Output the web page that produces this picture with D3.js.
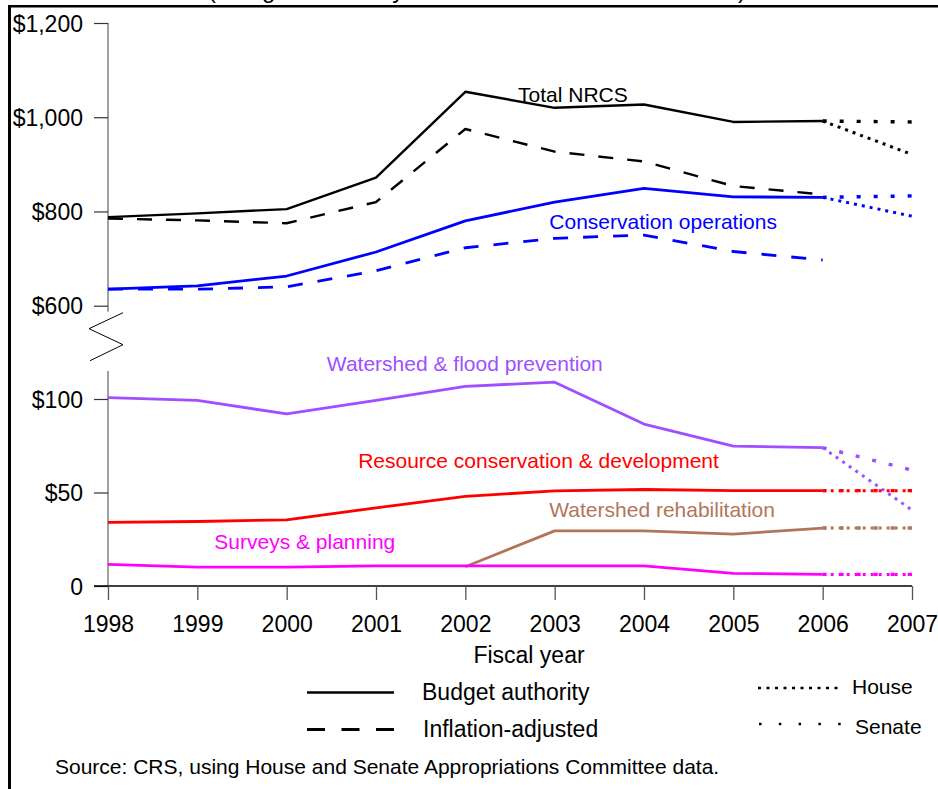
<!DOCTYPE html>
<html>
<head>
<meta charset="utf-8">
<script src="https://cdn.jsdelivr.net/npm/d3@7"></script>
<style>
  body { margin: 0; background: #fff; }
  svg { font-family: "Liberation Sans", Arial, sans-serif; }
</style>
</head>
<body>
<svg width="938" height="789"></svg>
<script>
// fiscal years with enacted data, and the 2007 House / Senate proposals
var years = [1998, 1999, 2000, 2001, 2002, 2003, 2004, 2005, 2006];
var projYears = [2006, 2007];

// upper panel ($ millions)
var totalBA = [788, 796, 805, 872, 1054, 1020, 1027, 990, 992];
var totalInfl = [785, 781, 775, 820, 975, 927, 906, 854, 836];
var consOpsBA = [635, 642, 663, 714, 780, 820, 849, 831, 830];
var consOpsInfl = [635, 635, 640, 674, 723, 743, 750, 715, 697];
var totalHouse = 921, totalSenate = 990;
var consOpsHouse = 790, consOpsSenate = 833;

// lower panel ($ millions)
var floodPrev = [100.7, 99.3, 92, 99.3, 106.8, 109, 86.6, 74.8, 74];
var resourceCons = [34, 34.5, 35.4, 41.8, 47.9, 50.9, 51.6, 51, 51];
var rehab = [null, null, null, null, 10.3, 29.5, 29.5, 27.7, 31];
var surveys = [11.6, 10.1, 10.1, 10.8, 10.8, 10.8, 10.8, 6.8, 6.2];
var floodHouse = 40.6, floodSenate = 62;
var resourceHouse = 51, resourceSenate = 51;
var rehabHouse = 31, rehabSenate = 31;
var surveysHouse = 6.2, surveysSenate = 6.2;

var topTicks = [600, 800, 1000, 1200];
var bottomTicks = [0, 50, 100];
var xTicks = [1998, 1999, 2000, 2001, 2002, 2003, 2004, 2005, 2006, 2007];

var svg = d3.select("svg");

var x = d3.scaleLinear([1998, 2007], [108, 912]);
var yTop = d3.scaleLinear([600, 1200], [305.7, 23]);
var yBot = d3.scaleLinear([0, 100], [586, 399]);

// frame (only top and left edges visible); title sits mostly above the page
svg.append("text")
  .attr("x", 208).attr("y", -2)
  .attr("font-size", 24)
  .attr("textLength", 538)
  .text("(Budget authority in millions of nominal dollars)");
svg.append("line").attr("x1", 8).attr("x2", 938).attr("y1", 6.2).attr("y2", 6.2)
  .attr("stroke", "#000").attr("stroke-width", 2.6);
svg.append("line").attr("x1", 9.5).attr("x2", 9.5).attr("y1", 5).attr("y2", 789)
  .attr("stroke", "#000").attr("stroke-width", 3);

// y axis spine, broken in two
svg.append("line").attr("x1", x(1998)).attr("x2", x(1998))
  .attr("y1", yTop(1200)).attr("y2", yTop(600) + 6)
  .attr("stroke", "#808080").attr("stroke-width", 1.5);
svg.append("line").attr("x1", x(1998)).attr("x2", x(1998))
  .attr("y1", yBot(115)).attr("y2", yBot(0))
  .attr("stroke", "#808080").attr("stroke-width", 1.5);

// break mark
var bx = x(1998), by = yTop(600);
svg.append("polyline")
  .attr("points", [[bx + 15, by + 7], [bx - 19, by + 23], [bx + 15, by + 39], [bx - 18, by + 55]].join(" "))
  .attr("fill", "none").attr("stroke", "#000").attr("stroke-width", 1);

function styleY(g) {
  g.select(".domain").remove();
  g.selectAll(".tick line").attr("stroke", "#333").attr("stroke-width", 1.2);
  g.selectAll(".tick text").attr("font-size", 23).attr("fill", "#000")
    .attr("font-family", "Liberation Sans, Arial, sans-serif").attr("dy", "0.36em");
}

svg.append("g")
  .attr("transform", "translate(" + x(1998) + ",0)")
  .call(d3.axisLeft(yTop).tickValues(topTicks).tickSize(14).tickPadding(11)
    .tickFormat(d3.format("$,")))
  .call(styleY);

svg.append("g")
  .attr("transform", "translate(" + x(1998) + ",0)")
  .call(d3.axisLeft(yBot).tickValues(bottomTicks).tickSize(14).tickPadding(11)
    .tickFormat(function (d) { return d === 0 ? "0" : "$" + d; }))
  .call(styleY);

// x axis
svg.append("line").attr("x1", x(1998) - 14).attr("x2", x(2007))
  .attr("y1", yBot(0)).attr("y2", yBot(0))
  .attr("stroke", "#000").attr("stroke-width", 1.3);
svg.append("g")
  .attr("transform", "translate(0," + yBot(0) + ")")
  .call(d3.axisBottom(x).tickValues(xTicks).tickSize(14).tickPadding(16)
    .tickFormat(d3.format("d")))
  .call(function (g) {
    g.select(".domain").remove();
    g.selectAll(".tick line").attr("stroke", "#555").attr("stroke-width", 1.3);
    g.selectAll(".tick text").attr("font-size", 23).attr("fill", "#000")
      .attr("font-family", "Liberation Sans, Arial, sans-serif");
  });

svg.append("text")
  .attr("x", (x(2002) + x(2003)) / 2 + 19).attr("y", 663)
  .attr("text-anchor", "middle").attr("font-size", 23)
  .text("Fiscal year");

// series
function drawSeries(values, scale, color, width, dash) {
  var pts = years.map(function (yr, i) { return [yr, values[i]]; });
  var line = d3.line()
    .defined(function (d) { return d[1] != null; })
    .x(function (d) { return x(d[0]); })
    .y(function (d) { return scale(d[1]); });
  svg.append("path")
    .attr("d", line(pts))
    .attr("fill", "none")
    .attr("stroke", color)
    .attr("stroke-width", width)
    .attr("stroke-dasharray", dash || null)
    .attr("stroke-linejoin", "round");
}

function drawProjection(last, house, senate, scale, color) {
  var line = d3.line()
    .x(function (d) { return x(d[0]); })
    .y(function (d) { return scale(d[1]); });
  svg.append("path")
    .attr("d", line([[projYears[0], last], [projYears[1], house]]))
    .attr("fill", "none").attr("stroke", color).attr("stroke-width", 3)
    .attr("stroke-dasharray", "3,5");
  svg.append("path")
    .attr("d", line([[projYears[0], last], [projYears[1], senate]]))
    .attr("fill", "none").attr("stroke", color).attr("stroke-width", 3.4)
    .attr("stroke-dasharray", "4,13");
}

var BLACK = "#000000", BLUE = "#0000ff", PURPLE = "#9f4fff",
    RED = "#ff0000", BROWN = "#b3755a", MAGENTA = "#ff00ff";

drawSeries(totalBA, yTop, BLACK, 2.4);
drawSeries(totalInfl, yTop, BLACK, 2.4, "15,14");
drawSeries(consOpsBA, yTop, BLUE, 2.8);
drawSeries(consOpsInfl, yTop, BLUE, 2.8, "15,15");
drawProjection(totalBA[8], totalHouse, totalSenate, yTop, BLACK);
drawProjection(consOpsBA[8], consOpsHouse, consOpsSenate, yTop, BLUE);

drawSeries(floodPrev, yBot, PURPLE, 2.8);
drawSeries(resourceCons, yBot, RED, 2.8);
drawSeries(rehab, yBot, BROWN, 2.8);
drawSeries(surveys, yBot, MAGENTA, 2.8);
drawProjection(floodPrev[8], floodHouse, floodSenate, yBot, PURPLE);
drawProjection(resourceCons[8], resourceHouse, resourceSenate, yBot, RED);
drawProjection(rehab[8], rehabHouse, rehabSenate, yBot, BROWN);
drawProjection(surveys[8], surveysHouse, surveysSenate, yBot, MAGENTA);

// series labels, anchored in data units
var labels = [
  { text: "Total NRCS", yr: 2002.59, v: 1032.6, scale: yTop, color: BLACK },
  { text: "Conservation operations", yr: 2002.94, v: 762.8, scale: yTop, color: BLUE },
  { text: "Watershed & flood prevention", yr: 2000.45, v: 115.2, scale: yBot, color: PURPLE },
  { text: "Resource conservation & development", yr: 2000.8, v: 63.1, scale: yBot, color: RED },
  { text: "Watershed rehabilitation", yr: 2002.94, v: 36.9, scale: yBot, color: BROWN },
  { text: "Surveys & planning", yr: 1999.19, v: 19.8, scale: yBot, color: MAGENTA }
];
labels.forEach(function (l) {
  svg.append("text")
    .attr("x", x(l.yr)).attr("y", l.scale(l.v))
    .attr("font-size", 21).attr("fill", l.color)
    .text(l.text);
});

// legend
var leg = svg.append("g");
leg.append("line").attr("x1", 307).attr("x2", 394).attr("y1", 692.5).attr("y2", 692.5)
  .attr("stroke", "#000").attr("stroke-width", 2.6);
leg.append("line").attr("x1", 307).attr("x2", 394).attr("y1", 729.5).attr("y2", 729.5)
  .attr("stroke", "#000").attr("stroke-width", 2.8).attr("stroke-dasharray", "18,16.5");
leg.append("text").attr("x", 422).attr("y", 700).attr("font-size", 23).text("Budget authority");
leg.append("text").attr("x", 423).attr("y", 737).attr("font-size", 23).text("Inflation-adjusted");

leg.append("line").attr("x1", 758).attr("x2", 842).attr("y1", 688).attr("y2", 688)
  .attr("stroke", "#000").attr("stroke-width", 2.4).attr("stroke-dasharray", "3,5.5");
leg.append("line").attr("x1", 759).attr("x2", 842).attr("y1", 724).attr("y2", 724)
  .attr("stroke", "#000").attr("stroke-width", 2.4).attr("stroke-dasharray", "2.5,17.3");
leg.append("text").attr("x", 852).attr("y", 694).attr("font-size", 21).text("House");
leg.append("text").attr("x", 855).attr("y", 734).attr("font-size", 21).text("Senate");

svg.append("text")
  .attr("x", 55).attr("y", 774).attr("font-size", 21)
  .text("Source: CRS, using House and Senate Appropriations Committee data.");
</script>
</body>
</html>
